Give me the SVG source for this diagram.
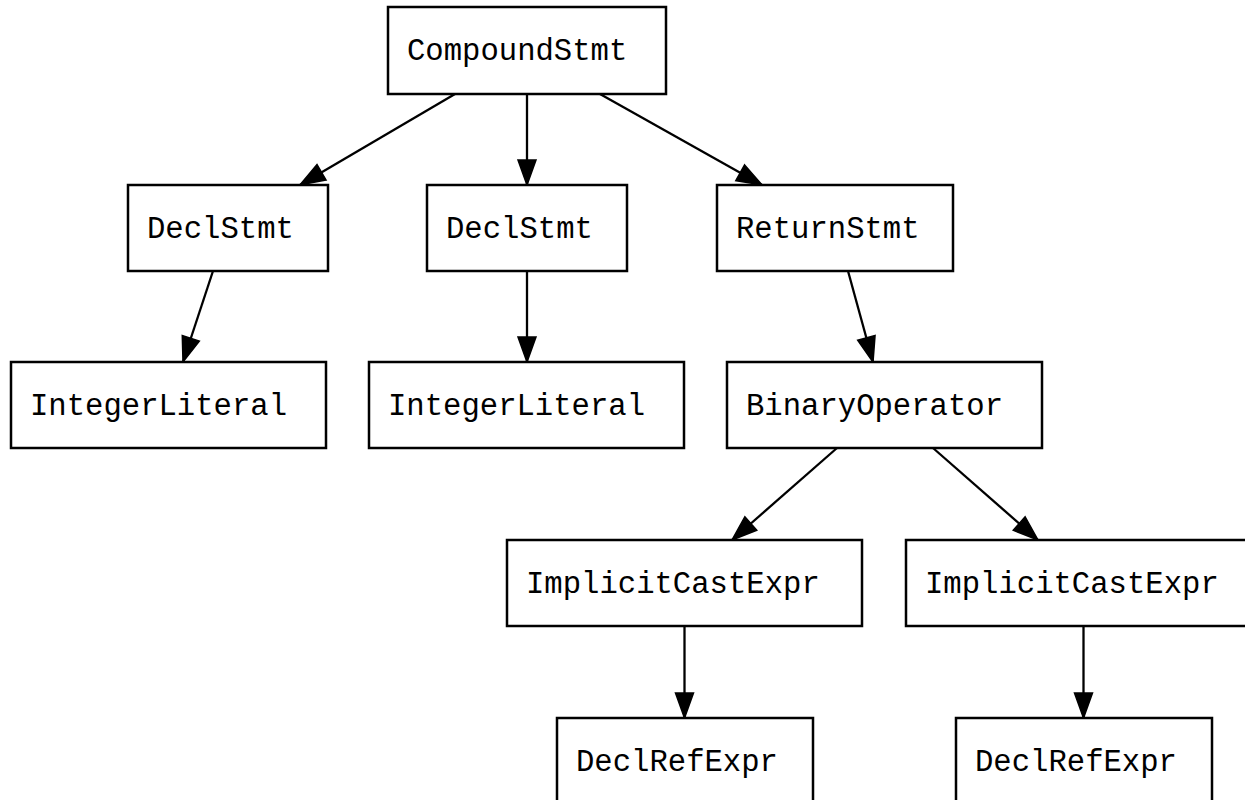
<svg xmlns="http://www.w3.org/2000/svg" width="1245" height="800" viewBox="0 0 1245 800">
  <style>
    .node rect { fill: #ffffff; stroke: #000000; stroke-width: 2.5; }
    .node text { font-family: "Liberation Mono", "DejaVu Sans Mono", monospace; font-size: 30.6px; fill: #000000; }
    .edge { fill: none; stroke: #000000; stroke-width: 2.3; marker-end: url(#arrow); }
  </style>
  <defs>
    <marker id="arrow" markerUnits="userSpaceOnUse" markerWidth="28" markerHeight="22" refX="25" refY="9.5" orient="auto" overflow="visible">
      <path d="M0,0.5 L25,9.5 L0,18.5 Z" fill="#000000" stroke="#000000" stroke-width="1.5" stroke-linejoin="miter"/>
    </marker>
  </defs>
  <rect width="1245" height="800" fill="#ffffff"/>

  <!-- AST edges -->
  <g id="edges">
    <path class="edge" d="M455,94 L300,185"/>
    <path class="edge" d="M527,94 L527,185"/>
    <path class="edge" d="M600,94 L762,185"/>
    <path class="edge" d="M213,271 L183,362"/>
    <path class="edge" d="M527,271 L527,362"/>
    <path class="edge" d="M848,271 L873,362"/>
    <path class="edge" d="M837,448 L732,540"/>
    <path class="edge" d="M933,448 L1038,540"/>
    <path class="edge" d="M684.5,626 L684.5,718"/>
    <path class="edge" d="M1083.5,626 L1083.5,718"/>
  </g>

  <!-- AST nodes -->
  <g id="compoundstmt" class="node">
    <rect x="388" y="7" width="278" height="87"/>
    <text x="407" y="60">CompoundStmt</text>
  </g>
  <g id="declstmt-1" class="node">
    <rect x="128" y="185" width="200" height="86"/>
    <text x="147" y="238">DeclStmt</text>
  </g>
  <g id="declstmt-2" class="node">
    <rect x="427" y="185" width="200" height="86"/>
    <text x="446" y="238">DeclStmt</text>
  </g>
  <g id="returnstmt" class="node">
    <rect x="717" y="185" width="236" height="86"/>
    <text x="736" y="238">ReturnStmt</text>
  </g>
  <g id="integerliteral-1" class="node">
    <rect x="11" y="362" width="315" height="86"/>
    <text x="30" y="415">IntegerLiteral</text>
  </g>
  <g id="integerliteral-2" class="node">
    <rect x="369" y="362" width="315" height="86"/>
    <text x="388" y="415">IntegerLiteral</text>
  </g>
  <g id="binaryoperator" class="node">
    <rect x="727" y="362" width="315" height="86"/>
    <text x="746" y="415">BinaryOperator</text>
  </g>
  <g id="implicitcastexpr-1" class="node">
    <rect x="507" y="540" width="355" height="86"/>
    <text x="526" y="593">ImplicitCastExpr</text>
  </g>
  <g id="implicitcastexpr-2" class="node">
    <rect x="906" y="540" width="355" height="86"/>
    <text x="925" y="593">ImplicitCastExpr</text>
  </g>
  <g id="declrefexpr-1" class="node">
    <rect x="557" y="718" width="256" height="86"/>
    <text x="576" y="771">DeclRefExpr</text>
  </g>
  <g id="declrefexpr-2" class="node">
    <rect x="956" y="718" width="256" height="86"/>
    <text x="975" y="771">DeclRefExpr</text>
  </g>
</svg>
